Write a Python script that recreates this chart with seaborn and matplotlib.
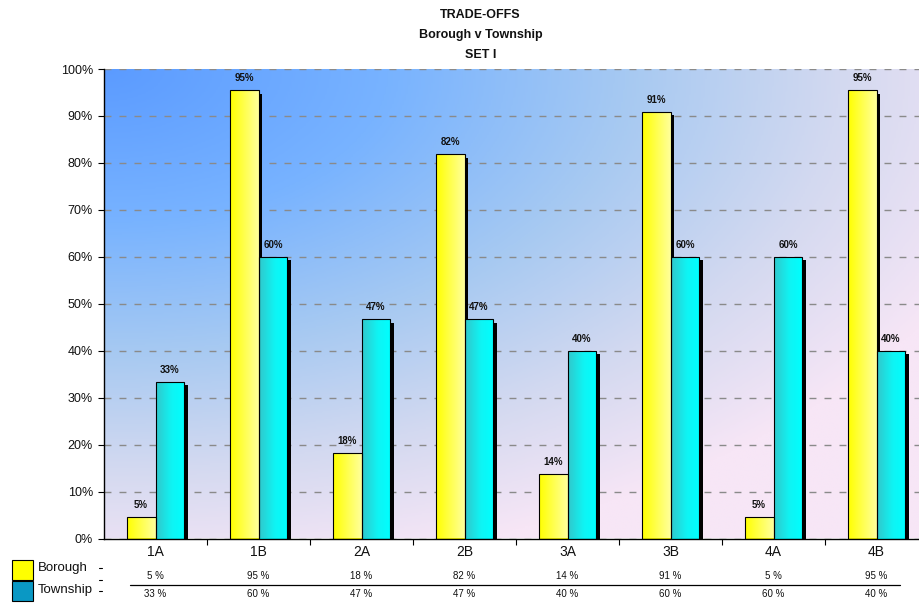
import numpy as np
import pandas as pd
import matplotlib
matplotlib.use("Agg")
import matplotlib.pyplot as plt
import matplotlib.patheffects as pe
from matplotlib.colors import LinearSegmentedColormap
from matplotlib.patches import Rectangle
from matplotlib.lines import Line2D
from matplotlib.transforms import blended_transform_factory
import seaborn as sns

# ---- data -------------------------------------------------------------
categories = ["1A", "1B", "2A", "2B", "3A", "3B", "4A", "4B"]
borough = [4.55, 95.45, 18.18, 81.82, 13.64, 90.91, 4.55, 95.45]
township = [33.33, 60.0, 46.67, 46.67, 40.0, 60.0, 60.0, 40.0]
series_names = ["Borough", "Township"]
title_lines = ["TRADE-OFFS", "Borough v Township", "SET I"]
y_ticks = list(range(0, 101, 10))

# ---- style ------------------------------------------------------------
sns.set_theme(style="white")
plt.rcParams["font.family"] = ["Liberation Sans", "DejaVu Sans"]

df = pd.DataFrame({
    "Option": categories * 2,
    "Share": borough + township,
    "Group": [series_names[0]] * len(categories) + [series_names[1]] * len(categories),
})

W, H = 919, 603
fig = plt.figure(figsize=(W / 100, H / 100), dpi=100)
fig.patch.set_facecolor("white")
ax = fig.add_axes([104 / W, 64.5 / H, 824 / W, 469.5 / H])

sns.barplot(
    data=df, x="Option", y="Share", hue="Group",
    order=categories, hue_order=series_names,
    palette=["#ffff00", "#00ffff"], saturation=1,
    width=0.56, ax=ax, legend=False, errorbar=None,
    edgecolor="black", linewidth=0.0, zorder=2,
)
ax.set_xlim(-0.5, len(categories) - 0.5)
ax.set_ylim(0, 100)

# ---- plot-area background: diagonal blue -> pink wash -----------------
nx, ny = 400, 300
gx, gy = np.meshgrid(np.linspace(0, 1, nx), np.linspace(0, 1, ny))  # gy=0 at top
dist = np.sqrt(gx ** 2 + (gy * 1.05) ** 2) / 1.15
bg_cmap = LinearSegmentedColormap.from_list(
    "wash",
    [(0.0, "#5b9bff"), (0.3, "#78b3ff"), (0.55, "#a6c9f2"),
     (0.78, "#d3d9f0"), (1.0, "#f7e6f6")],
)
ax.imshow(np.clip(dist, 0, 1), cmap=bg_cmap, vmin=0, vmax=1,
          extent=(-0.5, len(categories) - 0.5, 0, 100), origin="upper",
          aspect="auto", interpolation="bilinear", zorder=0)

# ---- gradient bars with drop shadow ------------------------------------
grad_maps = [
    LinearSegmentedColormap.from_list("yel", [(0, "#ffff00"), (1, "#ffff9c")]),
    LinearSegmentedColormap.from_list("cya", [(0, "#30c8cc"), (0.55, "#0ff4f4"), (1, "#00ffff")]),
]
strip = np.linspace(0, 1, 64).reshape(1, -1)
for container, cmap in zip(ax.containers, grad_maps):
    for bar in container:
        bar.set_zorder(2)
        bar.set_path_effects([
            pe.SimplePatchShadow(offset=(2.4, -2.4), shadow_rgbFace="black", alpha=1.0),
            pe.Normal(),
        ])
        x0, w, h = bar.get_x(), bar.get_width(), bar.get_height()
        im = ax.imshow(strip, cmap=cmap, vmin=0, vmax=1,
                       extent=(x0, x0 + w, 0, h), aspect="auto",
                       interpolation="bilinear", zorder=2.5)
        im.set_clip_path(bar)
        ax.add_patch(Rectangle((x0, 0), w, h, fill=False, edgecolor="black",
                               linewidth=0.8, zorder=3))

# value labels above bars
for container, values in zip(ax.containers, [borough, township]):
    for bar, v in zip(container, values):
        ax.text(bar.get_x() + bar.get_width() / 2, v + 1.5, f"{v:.0f}%",
                ha="center", va="bottom", fontsize=7, fontweight="bold",
                color="#111111", zorder=4)

# ---- axes styling ------------------------------------------------------
ax.set_axisbelow(True)
ax.yaxis.grid(True, linestyle=(0, (5, 5.8)), color="#8a8a8a", linewidth=1.0)
ax.xaxis.grid(False)
for side in ["top", "right"]:
    ax.spines[side].set_visible(False)
for side in ["left", "bottom"]:
    ax.spines[side].set_color("black")
    ax.spines[side].set_linewidth(1.0)
    ax.spines[side].set_zorder(5)

ax.set_yticks(y_ticks)
ax.set_yticklabels([f"{t}%" for t in y_ticks], fontsize=9, color="#111111")
ax.tick_params(axis="y", which="major", direction="out", length=4, width=0.8,
               color="black", left=True, pad=4)
ax.set_xticks(range(len(categories)))
ax.set_xticklabels(categories, fontsize=10, color="#111111")
ax.set_xticks(np.arange(0.5, len(categories) - 0.5, 1.0), minor=True)
ax.tick_params(axis="x", which="major", length=0, pad=5)
ax.tick_params(axis="x", which="minor", direction="out", length=4, width=0.8,
               color="black", bottom=True)
ax.set_xlabel("")
ax.set_ylabel("")

# ---- title -------------------------------------------------------------
for i, line in enumerate(title_lines):
    fig.text(0.523, 1 - (15 + 20 * i) / H, line, ha="center", va="center",
             fontsize=9, fontweight="bold", color="#111111")

# ---- data table beneath the axis --------------------------------------
tbl = blended_transform_factory(ax.transData, fig.transFigure)
row_y = [1 - 576 / H, 1 - 594 / H]
for values, yy in zip([borough, township], row_y):
    for i, v in enumerate(values):
        ax.text(i, yy, f"{v:.0f} %", transform=tbl, ha="center", va="center",
                fontsize=7, color="#111111", clip_on=False)

fig.add_artist(Line2D([130 / W, 900 / W], [1 - 585 / H] * 2,
                      color="black", linewidth=0.9, transform=fig.transFigure))
for py in [568, 580, 591]:
    fig.add_artist(Line2D([99 / W, 102 / W], [1 - py / H] * 2,
                          color="black", linewidth=0.8, transform=fig.transFigure))

key_colors = ["#ffff00", "#0a98c4"]
key_tops = [560, 581]
label_y = [568, 590]
for name, col, top, ly in zip(series_names, key_colors, key_tops, label_y):
    fig.add_artist(Rectangle((12 / W, 1 - (top + 20) / H), 21 / W, 20 / H,
                             facecolor=col, edgecolor="black", linewidth=0.8,
                             transform=fig.transFigure))
    fig.text(38 / W, 1 - ly / H, name, ha="left", va="center",
             fontsize=9.5, color="#111111")

fig.savefig("out.png", dpi=100, facecolor="white")
